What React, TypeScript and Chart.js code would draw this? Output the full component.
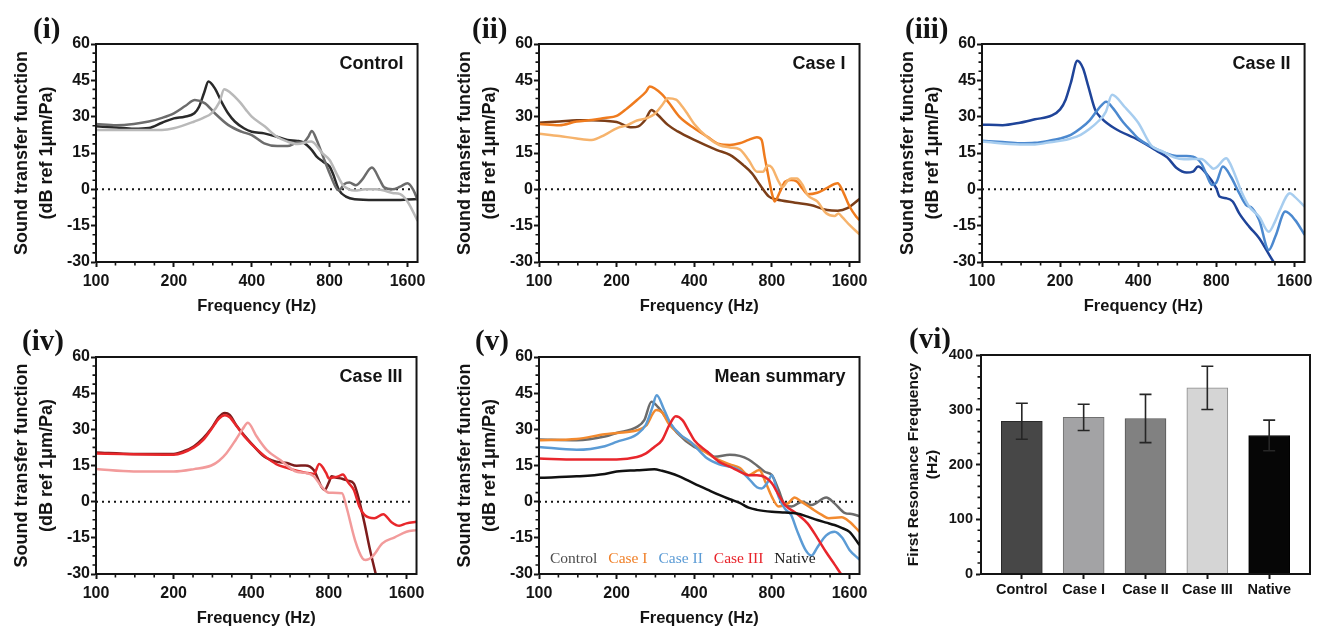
import React, { useEffect, useRef } from 'react';
import { Chart, registerables } from 'chart.js';

Chart.register(...registerables);

const SANS = "'Liberation Sans', Arial, Helvetica, sans-serif";
const SERIF = "'Liberation Serif', 'Times New Roman', serif";
const INK = '#141414';

// ---------- axis ticks ----------
const freqTicks = [100, 200, 400, 800, 1600];
const dbTicks = [-30, -15, 0, 15, 30, 45, 60];
const zeroLineF = [100, 1650];
const zeroLineDb = [0, 0];

// ---------- (i) Control ----------
const ctrlAF = [100,120,140,160,180,200,220,240,250,262,272,288,306,324,344,373,400,447,500,550,600,635,683,713,755,800,823,870,925,1000,1200,1400,1600,1750];
const ctrlADb = [26,25.5,25,25.3,27.5,29.3,30,31.4,34,40,44.5,41.7,36,31.4,28,25.2,23.8,23.1,21.7,20.4,20,19.3,16.2,13.5,11.4,9.4,6.6,-0.3,-3,-4.1,-4.4,-4.4,-4.2,-4];
const ctrlBF = [100,120,140,160,180,200,222,241,264,288,324,365,400,447,502,550,600,635,660,683,713,755,800,850,870,910,954,1010,1067,1166,1250,1300,1400,1500,1600,1687,1750];
const ctrlBDb = [27,26.5,27,28,29.5,31.4,34.5,36.9,35.5,31.4,26.6,23.8,22.4,19,17.9,17.9,19.3,19.5,21.5,24.1,20.4,13.5,6.6,0.4,-0.5,2.1,2.8,1.7,3.9,9,3.9,0.8,0,1.1,2.5,-0.3,-4.4];
const ctrlCF = [100,140,180,200,240,260,280,300,313,330,360,380,400,450,500,550,600,680,750,800,850,900,950,1000,1100,1200,1300,1400,1500,1600,1750];
const ctrlCDb = [24.5,24.5,24.5,25.2,28,29.5,31.5,36,41.3,40,36,32.8,30,25.9,21.7,19.7,18.7,19.7,14.9,12.1,6.6,1.8,0,-0.5,0,0,-0.5,-1.5,-2,-5,-13];

// ---------- (ii) Case I ----------
const c1AF = [100,120,140,160,180,200,229,243,258,273,289,316,345,400,490,550,620,670,720,780,830,985,1130,1310,1440,1570,1750];
const c1ADb = [27.5,28,28.5,28.5,28.3,27.8,25.6,26,28.6,32.8,30.7,26.6,23.9,20.4,16.2,14.2,10,6.6,1.8,-3,-4.1,-5.5,-6.5,-8.5,-8.8,-7.8,-4];
const c1BF = [100,120,140,160,180,200,220,240,260,269,300,320,350,400,450,500,550,600,650,700,730,750,780,800,820,860,900,950,1000,1050,1100,1200,1300,1440,1500,1600,1700,1750];
const c1BDb = [27,26.5,28,28.6,29.5,30.3,33.5,36.9,40.3,42.5,39.2,35.5,30,25.2,21.7,18.7,18.3,19,20.4,21.5,20.4,13.5,4,-1.6,-5,-1,3.2,3.9,3.2,0.4,-2,-1.4,0.4,2.5,-0.3,-7,-11.3,-12.7];
const c1CF = [100,120,140,160,180,200,220,240,260,280,300,316,340,360,380,400,450,500,550,600,650,700,740,770,800,850,880,920,950,1000,1050,1100,1200,1300,1400,1450,1500,1600,1750];
const c1CDb = [23,22,21,20.4,22.5,25.2,26.5,28.4,29.3,31,34.7,37.6,37,34.1,30.5,27,21.5,18.3,17.3,16.5,12.1,7.3,7.3,9.8,9,3.2,1,3.5,4.5,4.5,2,-2.3,-5,-9.9,-11,-10,-11.5,-14.7,-18.6];

// ---------- (iii) Case II ----------
const c2AF = [100,120,140,160,186,200,210,220,233,245,257,273,289,324,400,473,517,564,614,650,680,730,800,823,874,925,980,1070,1170,1330,1450];
const c2ADb = [26.7,26.5,27.5,28.9,30.5,33,37,44,53.1,50,42.4,32.8,29.3,25.2,20.4,15.8,13.2,8.7,6.9,7.3,9.4,6.6,0.4,-3,-3.7,-5,-9.9,-15.4,-20.2,-30,-35];
const c2BF = [100,120,140,160,180,200,220,240,260,280,301,320,350,380,400,450,500,564,614,650,700,730,770,800,848,910,980,1040,1100,1170,1274,1350,1475,1610,1750];
const c2BDb = [20.1,19.5,19,19.2,20,21,22.5,25.2,28.5,33,36.2,33.4,27.7,23.5,21,17.6,15.3,13.8,13.8,13.5,10.7,6.6,1.8,2.8,9.4,5.2,-1.6,-6.4,-7.8,-12.7,-25,-19.5,-9.2,-12.7,-18.8];
const c2CF = [100,140,160,180,200,220,240,260,280,300,317,354,400,450,500,550,600,650,700,750,780,800,874,900,950,1000,1070,1170,1274,1350,1400,1537,1600,1750];
const c2CDb = [19.7,18.5,18.5,19.3,20,21,22.5,25,28,32,39,34.1,27.5,18,15.5,13.2,12.4,12.5,12.5,10,8.5,9,12.8,11,5.2,-1,-7.1,-11.3,-17.5,-13,-9,-1.6,-3,-7.1];

// ---------- (iv) Case III ----------
const c3AF = [100,140,200,220,240,260,280,300,316,330,350,380,400,450,500,550,600,648,700,750,770,800,820,850,900,950,1000,1040,1100,1150,1216,1300];
const c3ADb = [20.4,19.8,19.8,21,23,26.2,30.3,35.2,36.8,36,31.7,26.9,24.2,18.6,16.6,16,14.9,15,13,6,4.8,8,10.5,10,9.5,8.7,7.5,2,-9,-19,-30,-42];
const c3BF = [100,200,240,260,280,300,316,330,350,380,400,450,500,550,600,650,700,734,780,800,830,870,907,950,1000,1050,1100,1200,1300,1400,1500,1600,1750];
const c3BDb = [20,19.5,22.5,25.5,30,34.5,35.8,35,31.5,26.5,24,19,15.6,14,12.8,12,11.5,15.6,12,9.7,10,10.5,11.3,8,4.8,-2,-5.5,-6.9,-5.2,-8.5,-10,-9,-8.3];
const c3CF = [100,140,200,240,280,300,320,350,370,388,420,460,520,600,650,700,750,800,900,935,1010,1080,1110,1180,1290,1440,1600,1750];
const c3CDb = [13.5,12.5,12.5,13.5,15,17,20,26,30,32.7,27,21.4,17.2,12.4,12,10.5,6.2,3.7,3.5,-2,-15.9,-23.5,-24.2,-22.8,-17.3,-14.8,-12.5,-11.8];

// ---------- (v) Mean summary ----------
const mCtrlF = [100,140,180,200,240,256,273,289,316,345,400,450,480,550,600,650,700,750,800,850,900,955,1050,1140,1300,1400,1530,1650,1750];
const mCtrlDb = [25.8,25.5,27,28.5,31,33.8,41.4,39.3,33.8,28.3,22.7,20.5,18.6,19.5,19,17.5,15,12.4,11,4.8,-1.4,-2,0,-1.4,1.7,-0.7,-4.6,-5.2,-6];
const mC1F = [100,140,180,200,240,260,285,300,320,350,400,450,500,550,600,650,715,760,800,850,925,980,1040,1140,1250,1330,1490,1600,1750];
const mC1Db = [25.5,26,28,28.5,29.6,31.5,38,37,32,28,23.5,20,17.2,15.5,14,11,13.1,7.5,2,-2,-0.7,1.7,0,-2.8,-5.5,-6.9,-6.5,-8.3,-12.5];
const mC2F = [100,140,180,200,240,260,275,286,306,324,355,387,450,500,550,600,650,700,730,770,800,850,900,950,1000,1080,1140,1200,1300,1400,1500,1600,1750];
const mC2Db = [22.7,21.5,23,24.8,28,32,39,44.1,38,32.4,27.6,24.8,17.9,15.5,14.5,13,9.6,6,5.5,8,11,2,-3,-5.5,-11.8,-20,-22.4,-19,-14,-12.5,-15,-20,-24];
const mC3F = [100,140,200,240,260,280,300,320,339,360,380,400,450,500,550,600,650,700,750,800,850,900,1000,1100,1200,1300,1400,1483,1600];
const mC3Db = [17.9,17.5,17.5,18.5,20,22.7,25.5,31.7,35.4,33.8,29.6,25.5,20.7,16.5,14.5,12.5,11,11,10.3,7.6,2.8,-1.4,-5,-9,-15,-21,-26,-30,-35];
const mNatF = [100,140,180,200,240,280,300,320,350,400,450,500,550,600,650,700,800,900,1000,1100,1200,1300,1400,1500,1600,1750];
const mNatDb = [9.9,10.5,11.5,12.5,13,13.4,12.8,12,10.5,7.5,5,2.8,1,-0.5,-2.5,-3.4,-4.2,-4.5,-4.9,-6.2,-7.6,-8.7,-9.7,-11,-12.5,-18];

const summaryLegend = ['Control', 'Case I', 'Case II', 'Case III', 'Native'];
const summaryLegendColors = ['#4d4d4d', '#f0812a', '#5b9bd5', '#e8242b', '#1a1a1a'];

// ---------- (vi) First resonance frequency ----------
const barLabels = ['Control', 'Case I', 'Case II', 'Case III', 'Native'];
const barMeans = [279, 286, 284, 340, 253];
const barSD = [33, 24, 44, 39.5, 28];
const barTicks = [0, 100, 200, 300, 400];
const barColors = ['#474747', '#a3a3a5', '#818181', '#d5d5d5', '#060606'];
const barBorders = ['#2a2a2a', '#707070', '#555555', '#8a8a8a', '#000000'];

// minor tick positions (scale decoration)
const freqMinor: number[] = [];
for (let k = 1; k <= 16; k++) if (k % 4 !== 0) freqMinor.push(100 * Math.pow(2, k / 4));
const dbMinor: number[] = [];
for (let v = -30; v <= 60; v += 3.75) if (v % 15 !== 0) dbMinor.push(v);
const barMinor: number[] = [];
for (let v = 0; v <= 400; v += 20) if (v % 100 !== 0) barMinor.push(v);

type Series = { f: number[]; db: number[]; color: string };

const extrasPlugin = {
  id: 'extras',
  afterDraw(chart: any, _args: any, opts: any) {
    const { ctx, chartArea: a, scales } = chart;
    const xs = scales.x;
    const ys = scales.y;
    ctx.save();
    ctx.strokeStyle = INK;
    ctx.lineWidth = 1.6;
    ctx.beginPath();
    (opts.xMinor || []).forEach((v: number) => {
      const p = xs.getPixelForValue(v);
      ctx.moveTo(p, a.bottom);
      ctx.lineTo(p, a.bottom + 3.5);
    });
    (opts.yMinor || []).forEach((v: number) => {
      const p = ys.getPixelForValue(v);
      ctx.moveTo(a.left, p);
      ctx.lineTo(a.left - 3.5, p);
    });
    ctx.stroke();

    if (opts.means) {
      ctx.strokeStyle = '#262626';
      ctx.lineWidth = 1.6;
      ctx.beginPath();
      opts.means.forEach((m: number, i: number) => {
        const x = xs.getPixelForValue(i);
        const yt = ys.getPixelForValue(m + opts.sd[i]);
        const yb = ys.getPixelForValue(m - opts.sd[i]);
        ctx.moveTo(x, yt); ctx.lineTo(x, yb);
        ctx.moveTo(x - 6, yt); ctx.lineTo(x + 6, yt);
        ctx.moveTo(x - 6, yb); ctx.lineTo(x + 6, yb);
      });
      ctx.stroke();
    }

    ctx.lineWidth = 2;
    ctx.strokeStyle = INK;
    ctx.strokeRect(a.left, a.top, a.right - a.left, a.bottom - a.top);

    if (opts.title) {
      ctx.font = `bold 18px ${SANS}`;
      ctx.fillStyle = INK;
      ctx.textAlign = 'right';
      ctx.textBaseline = 'middle';
      ctx.fillText(opts.title, a.right - 14, a.top + 20);
    }
    if (opts.legend) {
      ctx.font = `15.5px ${SERIF}`;
      ctx.textAlign = 'left';
      ctx.textBaseline = 'middle';
      let x = a.left + 11;
      opts.legend.forEach((t: string, i: number) => {
        ctx.fillStyle = opts.legendColors[i];
        ctx.fillText(t, x, a.bottom - 15);
        x += ctx.measureText(t).width + 11;
      });
    }
    ctx.restore();
  },
};

const axisFont = (size: number) => ({ family: SANS, size, weight: 'bold' as const });

function lineConfig(series: Series[], title: string, legend = false): any {
  const datasets: any[] = series.map((s) => ({
    data: s.f.map((x, i) => ({ x, y: s.db[i] })),
    borderColor: s.color,
    borderWidth: 2.5,
    pointRadius: 0,
    cubicInterpolationMode: 'monotone',
    fill: false,
  }));
  datasets.push({
    data: zeroLineF.map((x, i) => ({ x, y: zeroLineDb[i] })),
    borderColor: INK,
    borderWidth: 2,
    borderDash: [2, 4],
    pointRadius: 0,
    fill: false,
  });
  return {
    type: 'line',
    data: { datasets },
    options: {
      animation: false,
      responsive: false,
      devicePixelRatio: 1,
      layout: { padding: { left: 0, top: 12, right: 7, bottom: 0 } },
      plugins: {
        legend: { display: false },
        tooltip: { enabled: false },
        extras: {
          title,
          xMinor: freqMinor,
          yMinor: dbMinor,
          legend: legend ? summaryLegend : null,
          legendColors: summaryLegendColors,
        },
      },
      scales: {
        x: {
          type: 'logarithmic',
          min: 100,
          max: 1750,
          afterBuildTicks: (s: any) => { s.ticks = freqTicks.map((v) => ({ value: v })); },
          afterFit: (s: any) => { s.height = 56; },
          grid: { drawOnChartArea: false, drawTicks: true, tickLength: 5, tickWidth: 2, tickColor: INK },
          border: { display: true, width: 2, color: INK },
          ticks: { autoSkip: false, maxRotation: 0, padding: 4.5, color: INK, font: axisFont(16), callback: (v: any) => String(v) },
          title: { display: true, text: 'Frequency (Hz)', color: INK, font: axisFont(16.5), padding: { top: 0, bottom: 2 } },
        },
        y: {
          type: 'linear',
          min: -30,
          max: 60,
          afterBuildTicks: (s: any) => { s.ticks = dbTicks.map((v) => ({ value: v })); },
          afterFit: (s: any) => { s.width = 96; },
          grid: { drawOnChartArea: false, drawTicks: true, tickLength: 5, tickWidth: 2, tickColor: INK },
          border: { display: true, width: 2, color: INK },
          ticks: { padding: 1, color: INK, font: axisFont(16), callback: (v: any) => String(v) },
          title: {
            display: true,
            text: ['Sound transfer function', '(dB ref 1\u03bcm/Pa)'],
            color: INK,
            font: { family: SANS, size: 18, weight: 'bold', lineHeight: 1.4 },
            padding: { top: 9, bottom: 0 },
          },
        },
      },
    },
    plugins: [extrasPlugin],
  };
}

function barConfig(): any {
  return {
    type: 'bar',
    data: {
      datasets: [{
        data: barMeans.map((y, i) => ({ x: i, y })),
        backgroundColor: barColors,
        borderColor: barBorders,
        borderWidth: 1,
        barThickness: 41,
      }],
    },
    options: {
      animation: false,
      responsive: false,
      devicePixelRatio: 1,
      layout: { padding: { left: 0, top: 12, right: 7, bottom: 0 } },
      plugins: {
        legend: { display: false },
        tooltip: { enabled: false },
        extras: { yMinor: barMinor, means: barMeans, sd: barSD },
      },
      scales: {
        x: {
          type: 'linear',
          min: -0.66,
          max: 4.66,
          offset: false,
          afterBuildTicks: (s: any) => { s.ticks = barLabels.map((_, i) => ({ value: i })); },
          afterFit: (s: any) => { s.height = 56; },
          grid: { offset: false, drawOnChartArea: false, drawTicks: true, tickLength: 5, tickWidth: 2, tickColor: INK },
          border: { display: true, width: 2, color: INK },
          ticks: { autoSkip: false, maxRotation: 0, padding: 2.5, color: INK, font: axisFont(14.5), callback: (v: any) => barLabels[v] ?? '' },
        },
        y: {
          type: 'linear',
          min: 0,
          max: 400,
          afterBuildTicks: (s: any) => { s.ticks = barTicks.map((v) => ({ value: v })); },
          afterFit: (s: any) => { s.width = 96; },
          grid: { drawOnChartArea: false, drawTicks: true, tickLength: 5, tickWidth: 2, tickColor: INK },
          border: { display: true, width: 2, color: INK },
          ticks: { padding: 3, color: INK, font: axisFont(14.5), callback: (v: any) => String(v) },
          title: {
            display: true,
            text: ['First Resonance Frequency', '(Hz)'],
            color: INK,
            font: { family: SANS, size: 15.5, weight: 'bold', lineHeight: 1.2 },
            padding: { top: 19.5, bottom: 0 },
          },
        },
      },
    },
    plugins: [extrasPlugin],
  };
}

function Panel({ L, T, R, B, make }: { L: number; T: number; R: number; B: number; make: () => any }) {
  const ref = useRef<HTMLCanvasElement>(null);
  const left = L - 96;
  const top = T - 12;
  const width = R - L + 96 + 7;
  const height = B - T + 12 + 56;
  useEffect(() => {
    const chart = new Chart(ref.current as HTMLCanvasElement, make());
    return () => chart.destroy();
  }, []);
  return (
    <canvas
      ref={ref}
      width={width}
      height={height}
      style={{ position: 'absolute', left, top, width, height }}
    />
  );
}

const tagStyle = (left: number, cy: number): React.CSSProperties => ({
  position: 'absolute',
  left,
  top: cy - 15,
  font: `bold 29px ${SERIF}`,
  lineHeight: '30px',
  color: INK,
  whiteSpace: 'nowrap',
});

export default function App() {
  return (
    <div style={{ position: 'absolute', left: 0, top: 0, width: 1317, height: 629, overflow: 'hidden', background: '#fff' }}>
      <Panel L={96} T={44} R={423} B={262} make={() => lineConfig([
        { f: ctrlCF, db: ctrlCDb, color: '#b9b9b9' },
        { f: ctrlBF, db: ctrlBDb, color: '#6c6c6c' },
        { f: ctrlAF, db: ctrlADb, color: '#2a2a2a' },
      ], 'Control')} />
      <Panel L={539} T={44} R={865} B={262} make={() => lineConfig([
        { f: c1CF, db: c1CDb, color: '#f6b36c' },
        { f: c1BF, db: c1BDb, color: '#ef7b1e' },
        { f: c1AF, db: c1ADb, color: '#7c3e18' },
      ], 'Case I')} />
      <Panel L={982} T={44} R={1310} B={262} make={() => lineConfig([
        { f: c2CF, db: c2CDb, color: '#a7cdef' },
        { f: c2BF, db: c2BDb, color: '#4c89cf' },
        { f: c2AF, db: c2ADb, color: '#1f4499' },
      ], 'Case II')} />
      <Panel L={96} T={357} R={422} B={574} make={() => lineConfig([
        { f: c3CF, db: c3CDb, color: '#f29b9b' },
        { f: c3BF, db: c3BDb, color: '#e8272b' },
        { f: c3AF, db: c3ADb, color: '#7d1c1c' },
      ], 'Case III')} />
      <Panel L={539} T={357} R={865} B={574} make={() => lineConfig([
        { f: mNatF, db: mNatDb, color: '#111111' },
        { f: mC3F, db: mC3Db, color: '#e8262c' },
        { f: mC2F, db: mC2Db, color: '#5b9bd5' },
        { f: mC1F, db: mC1Db, color: '#f28a2f' },
        { f: mCtrlF, db: mCtrlDb, color: '#6b6b6b' },
      ], 'Mean summary', true)} />
      <Panel L={981} T={355} R={1310} B={574} make={barConfig} />
      <div style={tagStyle(33, 28)}>(i)</div>
      <div style={tagStyle(472, 28)}>(ii)</div>
      <div style={tagStyle(905, 28)}>(iii)</div>
      <div style={tagStyle(22, 340)}>(iv)</div>
      <div style={tagStyle(475, 340)}>(v)</div>
      <div style={tagStyle(909, 338)}>(vi)</div>
    </div>
  );
}
